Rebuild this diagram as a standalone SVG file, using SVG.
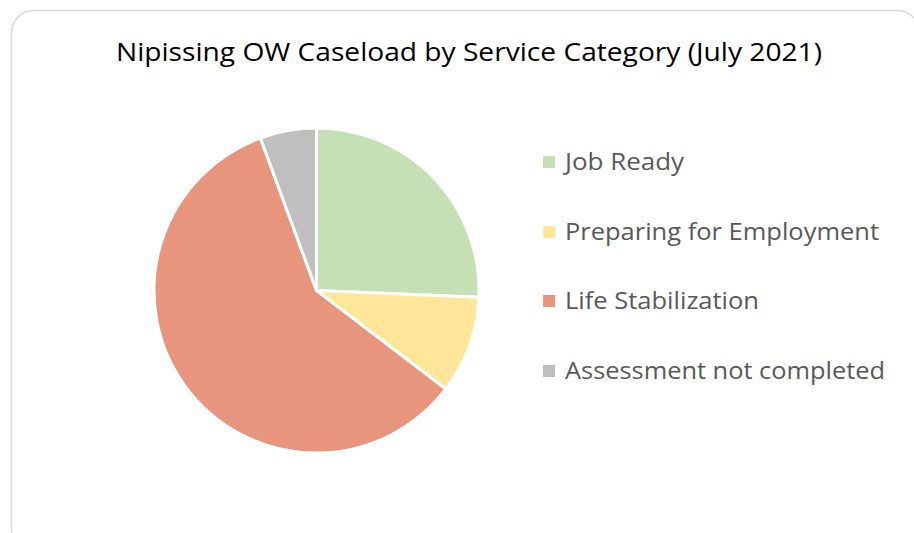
<svg xmlns="http://www.w3.org/2000/svg" width="914" height="533" viewBox="0 0 914 533">
  <style>
    .frame { fill: #FFFFFF; stroke: #D9D9D9; stroke-width: 1.5; }
    .title { font-family: "Open Sans", "Liberation Sans", sans-serif; font-size: 25px; fill: #000000; }
    .slice { stroke: #FFFFFF; stroke-width: 3; stroke-linejoin: round; }
    .legend-text { font-family: "Open Sans", "Liberation Sans", sans-serif; font-size: 23px; fill: #595959; }
  </style>
  <rect width="914" height="533" fill="#FFFFFF"/>
  <!-- chart area border -->
  <rect class="frame" x="11.5" y="10.5" width="908" height="540" rx="22" ry="22"/>

  <g id="title">
    <text class="title" x="116" y="61" textLength="706" lengthAdjust="spacingAndGlyphs">Nipissing OW Caseload by Service Category (July 2021)</text>
  </g>

  <!-- pie: centre (316.5, 290.5), radius 162.5 -->
  <g id="pie">
    <path id="slice-job-ready" class="slice" fill="#C5E0B4" d="M316.5,290.5 L316.5,128 A162.5,162.5 0 0 1 478.86,297.31 Z"/>
    <path id="slice-preparing" class="slice" fill="#FFE699" d="M316.5,290.5 L478.86,297.31 A162.5,162.5 0 0 1 445.76,388.97 Z"/>
    <path id="slice-life-stabilization" class="slice" fill="#E8957E" d="M316.5,290.5 L445.76,388.97 A162.5,162.5 0 1 1 260.39,138.0 Z"/>
    <path id="slice-assessment" class="slice" fill="#BFBFBF" d="M316.5,290.5 L260.39,138.0 A162.5,162.5 0 0 1 316.5,128 Z"/>
  </g>

  <g id="legend">
    <g id="legend-job-ready">
      <rect x="543" y="156" width="12" height="12" fill="#C5E0B4"/>
      <text class="legend-text" x="565" y="170" textLength="119" lengthAdjust="spacingAndGlyphs">Job Ready</text>
    </g>
    <g id="legend-preparing">
      <rect x="543" y="226" width="12" height="12" fill="#FFE699"/>
      <text class="legend-text" x="565" y="240" textLength="314" lengthAdjust="spacingAndGlyphs">Preparing for Employment</text>
    </g>
    <g id="legend-life-stabilization">
      <rect x="543" y="295" width="12" height="12" fill="#E8957E"/>
      <text class="legend-text" x="565" y="309" textLength="194" lengthAdjust="spacingAndGlyphs">Life Stabilization</text>
    </g>
    <g id="legend-assessment">
      <rect x="543" y="365" width="12" height="12" fill="#BFBFBF"/>
      <text class="legend-text" x="565" y="379" textLength="320" lengthAdjust="spacingAndGlyphs">Assessment not completed</text>
    </g>
  </g>
</svg>
